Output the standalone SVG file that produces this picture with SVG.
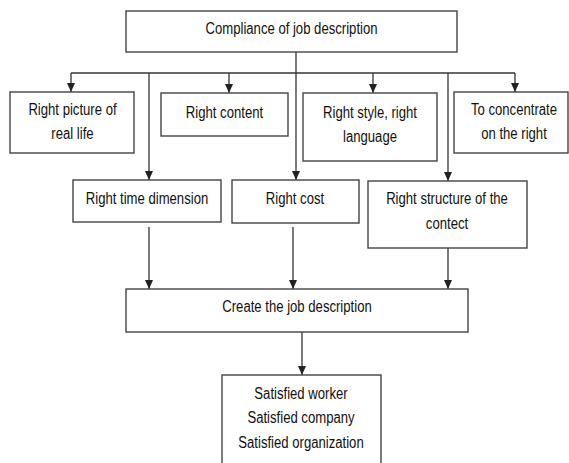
<svg xmlns="http://www.w3.org/2000/svg" width="569" height="463" viewBox="0 0 569 463">
<defs>
<marker id="ah" markerUnits="userSpaceOnUse" markerWidth="9" markerHeight="8" refX="9" refY="4" orient="auto">
<path d="M0,0 L9,4 L0,8 z" fill="#222"/>
</marker>
</defs>
<style>
.box{fill:#fff;stroke:#444;stroke-width:1.4}
.t{font-family:"Liberation Sans",Arial,sans-serif;font-size:16px;fill:#111;text-anchor:middle}
.c{fill:none;stroke:#333;stroke-width:1.3}
.a{marker-end:url(#ah)}
</style>
<rect width="569" height="463" fill="#fff"/>
<g id="connectors">
<path class="c" d="M71,73 H515"/>
<path class="c a" d="M296,52 V180"/>
<path class="c a" d="M71,73 V92"/>
<path class="c a" d="M229,73 V93"/>
<path class="c a" d="M373,73 V93"/>
<path class="c a" d="M515,73 V92"/>
<path class="c a" d="M149,73 V180"/>
<path class="c a" d="M448,73 V181"/>
<path class="c a" d="M149,227 V289"/>
<path class="c a" d="M293,227 V289"/>
<path class="c a" d="M448,248 V289"/>
<path class="c a" d="M302,332 V375"/>
</g>
<g id="compliance">
<rect class="box" x="126" y="11" width="331" height="41"/>
<text class="t" transform="translate(291.5,34) scale(0.82,1)">Compliance of job description</text>
</g>
<g id="picture">
<rect class="box" x="10" y="92" width="124" height="61"/>
<text class="t" transform="translate(72.5,115) scale(0.82,1)">Right picture of</text>
<text class="t" transform="translate(72.5,139) scale(0.82,1)">real life</text>
</g>
<g id="content">
<rect class="box" x="161" y="93" width="127" height="43"/>
<text class="t" transform="translate(224.5,118) scale(0.82,1)">Right content</text>
</g>
<g id="style">
<rect class="box" x="303" y="93" width="134" height="68"/>
<text class="t" transform="translate(370,118) scale(0.82,1)">Right style, right</text>
<text class="t" transform="translate(370,142) scale(0.82,1)">language</text>
</g>
<g id="concentrate">
<rect class="box" x="454" y="92" width="114" height="61"/>
<text class="t" transform="translate(514,115) scale(0.82,1)">To concentrate</text>
<text class="t" transform="translate(514,139) scale(0.82,1)">on the right</text>
</g>
<g id="time">
<rect class="box" x="73" y="180" width="148" height="42"/>
<text class="t" transform="translate(147,204) scale(0.82,1)">Right time dimension</text>
</g>
<g id="cost">
<rect class="box" x="232" y="180" width="127" height="43"/>
<text class="t" transform="translate(295,204) scale(0.82,1)">Right cost</text>
</g>
<g id="structure">
<rect class="box" x="368" y="181" width="159" height="67"/>
<text class="t" transform="translate(447,204) scale(0.82,1)">Right structure of the</text>
<text class="t" transform="translate(447,229) scale(0.82,1)">contect</text>
</g>
<g id="create">
<rect class="box" x="126" y="289" width="342" height="43"/>
<text class="t" transform="translate(297,312) scale(0.82,1)">Create the job description</text>
</g>
<g id="satisfied">
<rect class="box" x="222" y="375" width="159" height="100"/>
<text class="t" transform="translate(301,399) scale(0.82,1)">Satisfied worker</text>
<text class="t" transform="translate(301,423) scale(0.82,1)">Satisfied company</text>
<text class="t" transform="translate(301,448) scale(0.82,1)">Satisfied organization</text>
</g>
</svg>
